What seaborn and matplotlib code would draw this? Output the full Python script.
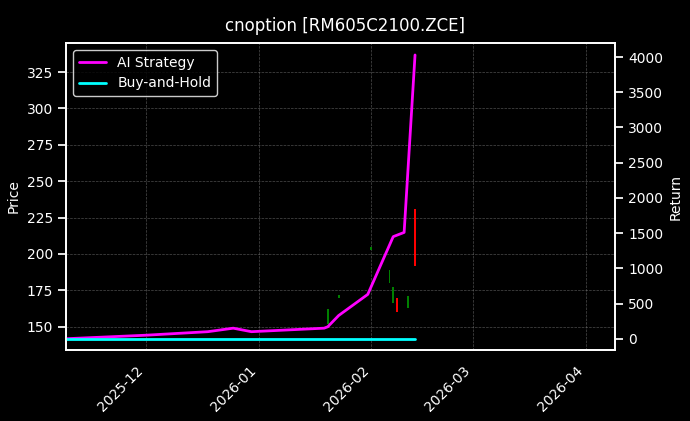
import matplotlib
matplotlib.use("Agg")
import matplotlib.pyplot as plt
import matplotlib.dates as mdates
import seaborn as sns
import pandas as pd
import numpy as np

sns.set_theme(style="dark")
plt.style.use("dark_background")
plt.rcParams['font.family'] = ['DejaVu Sans']
plt.rcParams['font.size'] = 10

strat_dates = ["2025-11-09","2025-12-01","2025-12-18","2025-12-25","2025-12-30","2026-01-19","2026-01-20",
               "2026-01-23","2026-01-31","2026-02-07","2026-02-10","2026-02-13"]
strat_ret = [0, 50, 100, 150, 100, 150, 170, 330, 630, 1450, 1510, 4030]
bh_dates = ["2025-11-09", "2026-02-13"]
bh_ret = [0, 0]

c_dates = ["2026-01-20","2026-01-23","2026-02-01","2026-02-06","2026-02-07","2026-02-08","2026-02-11","2026-02-13"]
c_open  = [152, 170, 203, 180, 166, 170, 163, 231]
c_close = [162, 172, 205, 189, 177, 160, 171, 192]

fig = plt.figure(figsize=(6.9, 4.21), dpi=100, facecolor="black")
ax = fig.add_axes([66/690, 1-350/421, 549/690, 307/421])
ax.set_facecolor("black")
cd = pd.to_datetime(c_dates)
for d, o, c in zip(cd, c_open, c_close):
    col = "green" if c >= o else "red"
    ax.bar(d, abs(c - o), bottom=min(o, c), width=0.5, color=col, edgecolor="none", linewidth=0)
ax.set_ylim(134, 345)
ax.set_ylabel("Price", fontsize=10)
ax.tick_params(labelsize=10)
ax.grid(True, color="gray", linestyle="--", linewidth=0.5, alpha=0.6)

ax2 = ax.twinx()
sns.lineplot(x=pd.to_datetime(strat_dates), y=strat_ret, ax=ax2, color="magenta", linewidth=2, label="AI Strategy")
sns.lineplot(x=pd.to_datetime(bh_dates), y=bh_ret, ax=ax2, color="cyan", linewidth=2, label="Buy-and-Hold")
ax2.set_ylim(-160, 4200)
ax2.set_ylabel("Return", fontsize=10)
ax2.tick_params(labelsize=10)
ax2.legend(loc="upper left", facecolor="black", edgecolor="white", fontsize=10)
ax.set_xlim(pd.Timestamp("2025-11-09"), pd.Timestamp("2026-04-09"))
ax.xaxis.set_major_locator(mdates.MonthLocator())
ax.xaxis.set_major_formatter(mdates.DateFormatter("%Y-%m"))
plt.setp(ax.get_xticklabels(), rotation=45, ha="right")
fig.suptitle("cnoption [RM605C2100.ZCE]", y=0.96, fontsize=12)
fig.savefig("out.png", dpi=100, facecolor="black")
